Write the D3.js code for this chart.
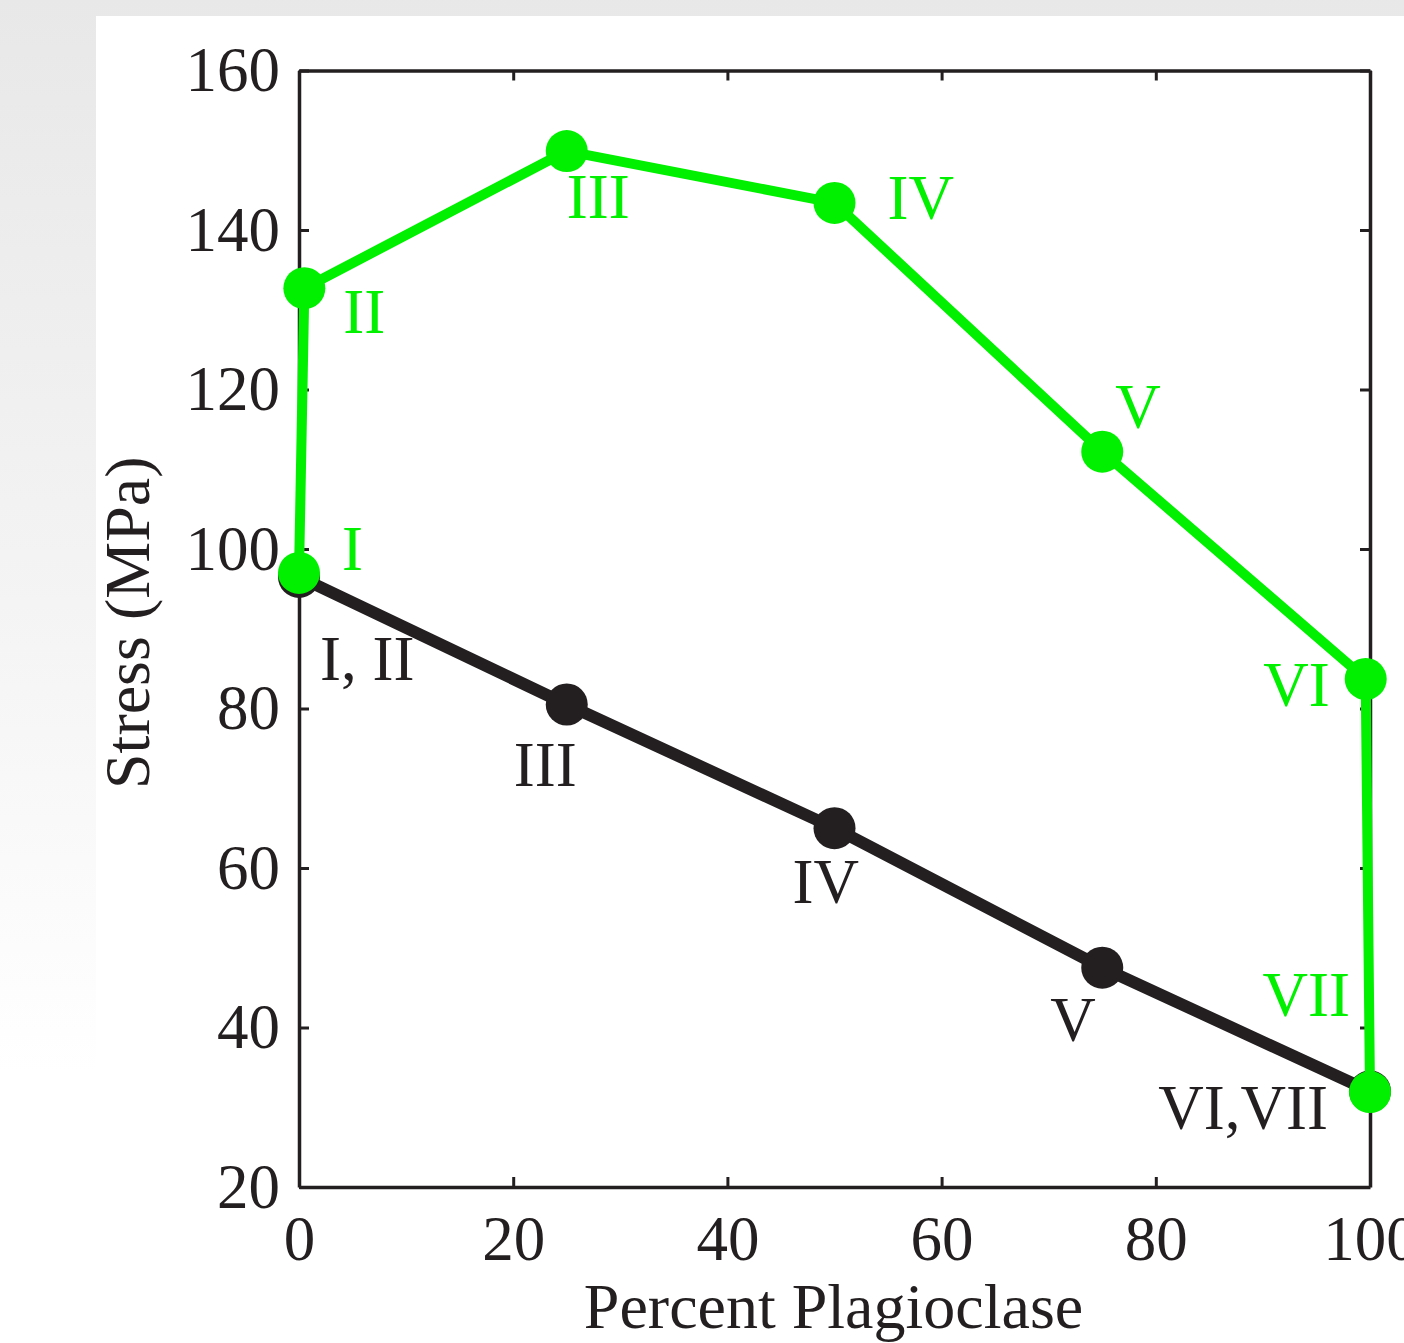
<!DOCTYPE html>
<html>
<head>
<meta charset="utf-8">
<script src="https://cdn.jsdelivr.net/npm/d3@7"></script>
<style>
  body { margin: 0; background: #fff; }
  text { font-family: "Liberation Serif", "Times New Roman", serif; }
</style>
</head>
<body>
<svg id="chart"></svg>
<script>
const width = 1404, height = 1343;

// data
const xTicks = [0, 20, 40, 60, 80, 100];
const yTicks = [20, 40, 60, 80, 100, 120, 140, 160];

const blackX = [0, 25, 50, 75, 100];
const blackY = [96.5, 80.5, 65, 47.5, 32];
const blackNames = ["I, II", "III", "IV", "V", "VI,VII"];

const greenX = [0, 0.5, 25, 50, 75, 99.6, 100];
const greenY = [97, 132.7, 149.9, 143.4, 112.2, 83.7, 31.9];
const greenNames = ["I", "II", "III", "IV", "V", "VI", "VII"];

// label placement relative to each point (anchor, dx, dy)
const blackLabelPos = [["start", 21, 103], ["start", -53, 81], ["start", -42, 75], ["start", -52, 73], ["end", -42, 38]];
const greenLabelPos = [["start", 43, -3], ["start", 39, 45], ["start", 0, 67], ["start", 53, 16], ["start", 13, -24], ["end", -36, 27], ["end", -20, -76]];

const ink = "#231f20";
const green = "#00f000";

const svg = d3.select("#chart").attr("width", width).attr("height", height);

// page background: grey fade on top/left, white panel
const defs = svg.append("defs");
const grad = defs.append("linearGradient").attr("id", "bg")
  .attr("x1", 0).attr("y1", 0).attr("x2", 0).attr("y2", 1);
grad.append("stop").attr("offset", "0%").attr("stop-color", "#e8e8e8");
grad.append("stop").attr("offset", "45%").attr("stop-color", "#f4f4f4");
grad.append("stop").attr("offset", "80%").attr("stop-color", "#ffffff");
svg.append("rect").attr("width", width).attr("height", height).attr("fill", "url(#bg)");
svg.append("rect").attr("x", 96).attr("y", 16).attr("width", width - 96).attr("height", height - 16).attr("fill", "#fff");

const x = d3.scaleLinear().domain([0, 100]).range([299, 1370]);
const y = d3.scaleLinear().domain([20, 160]).range([1187, 70.5]);

function styleAxis(g) {
  g.selectAll("path.domain").attr("stroke", ink).attr("stroke-width", 3.5);
  g.selectAll(".tick line").attr("stroke", ink).attr("stroke-width", 3);
  g.selectAll(".tick text").attr("fill", ink).style("font-size", "63px")
    .style("font-family", '"Liberation Serif", "Times New Roman", serif');
}

svg.append("g").attr("transform", `translate(0,${y(20)})`)
  .call(d3.axisBottom(x).tickValues(xTicks).tickSize(-10).tickSizeOuter(0).tickPadding(28))
  .call(styleAxis);
svg.append("g").attr("transform", `translate(0,${y(160)})`)
  .call(d3.axisTop(x).tickValues(xTicks).tickSize(-10).tickSizeOuter(0).tickFormat(""))
  .call(styleAxis);
svg.append("g").attr("transform", `translate(${x(0)},0)`)
  .call(d3.axisLeft(y).tickValues(yTicks).tickSize(-10).tickSizeOuter(0).tickPadding(19))
  .call(styleAxis);
svg.append("g").attr("transform", `translate(${x(100)},0)`)
  .call(d3.axisRight(y).tickValues(yTicks).tickSize(-10).tickSizeOuter(0).tickFormat(""))
  .call(styleAxis);

// axis titles
svg.append("text")
  .attr("x", (x(0) + x(100)) / 2 - 1).attr("y", 1328)
  .attr("text-anchor", "middle").attr("fill", ink).style("font-size", "64px")
  .text("Percent Plagioclase");
svg.append("text")
  .attr("transform", `translate(149,${(y(20) + y(160)) / 2 - 6}) rotate(-90)`)
  .attr("text-anchor", "middle").attr("fill", ink).style("font-size", "64px")
  .text("Stress (MPa)");

const line = d3.line().x(d => x(d[0])).y(d => y(d[1]));

function drawSeries(xs, ys, color, lw, names, pos) {
  const pts = xs.map((v, i) => [v, ys[i]]);
  svg.append("path").datum(pts)
    .attr("d", line).attr("fill", "none")
    .attr("stroke", color).attr("stroke-width", lw).attr("stroke-linejoin", "round");
  svg.append("g").selectAll("circle").data(pts).join("circle")
    .attr("cx", d => x(d[0])).attr("cy", d => y(d[1])).attr("r", 21)
    .attr("fill", color);
  svg.append("g").selectAll("text").data(pts).join("text")
    .attr("x", (d, i) => x(d[0]) + pos[i][1])
    .attr("y", (d, i) => y(d[1]) + pos[i][2])
    .attr("text-anchor", (d, i) => pos[i][0])
    .attr("fill", color).style("font-size", "63px")
    .text((d, i) => names[i]);
}

drawSeries(blackX, blackY, ink, 12, blackNames, blackLabelPos);
drawSeries(greenX, greenY, green, 10, greenNames, greenLabelPos);
</script>
</body>
</html>
